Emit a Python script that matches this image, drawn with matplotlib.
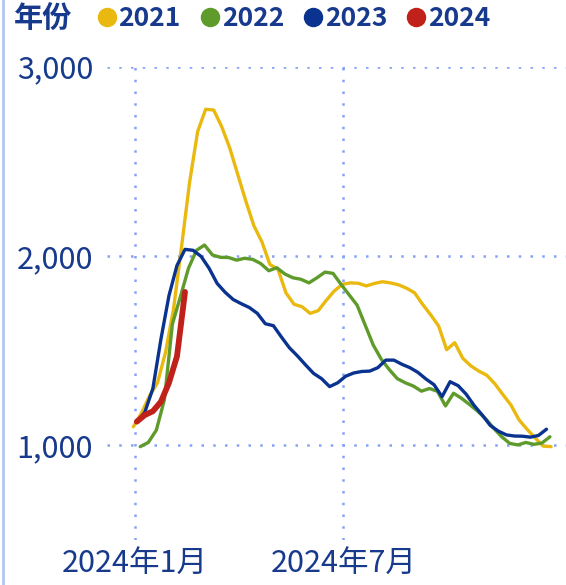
import matplotlib
matplotlib.use("Agg")
import matplotlib.pyplot as plt
import pandas as pd
from matplotlib.lines import Line2D

plt.rcParams["font.family"] = ["Noto Sans CJK SC", "DejaVu Sans"]

# weekly series, aligned on the 2024 calendar
YEARS = ["2021", "2022", "2023", "2024"]
STARTS = ["2023-12-31", "2024-01-06", "2024-01-03", "2024-01-03"]
v2021 = [1098, 1170, 1260, 1330, 1490, 1720, 2050, 2390, 2657, 2775, 2771, 2683,
         2570, 2430, 2290, 2160, 2075, 1955, 1930, 1805, 1745, 1732, 1697, 1711,
         1765, 1815, 1850, 1858, 1856, 1842, 1855, 1864, 1858, 1848, 1830, 1806,
         1745, 1690, 1630, 1505, 1542, 1460, 1420, 1392, 1370, 1325, 1268, 1213,
         1135, 1085, 1040, 996, 993]
v2022 = [993, 1015, 1080, 1240, 1640, 1785, 1935, 2030, 2058, 2005, 1993, 1992,
         1978, 1988, 1982, 1960, 1922, 1938, 1905, 1885, 1877, 1858, 1885, 1915,
         1908, 1850, 1795, 1740, 1635, 1530, 1455, 1400, 1352, 1330, 1313, 1286,
         1300, 1285, 1208, 1275, 1248, 1215, 1180, 1140, 1090, 1045, 1010, 1002,
         1015, 1005, 1012, 1045]
v2023 = [1125, 1175, 1300, 1560, 1790, 1950, 2035, 2030, 1998, 1935, 1855, 1808,
         1770, 1748, 1728, 1697, 1642, 1632, 1572, 1515, 1472, 1425, 1380, 1352,
         1310, 1330, 1365, 1382, 1390, 1392, 1410, 1450, 1450, 1428, 1410, 1385,
         1350, 1320, 1257, 1336, 1315, 1270, 1210, 1160, 1105, 1075, 1055, 1049,
         1048, 1043, 1052, 1085]
v2024 = [1125, 1160, 1180, 1230, 1330, 1470, 1810]
SERIES = [v2021, v2022, v2023, v2024]
COLORS = ["#E9B90F", "#5F9B2B", "#0A3390", "#C0211A"]
WIDTHS = [2.4, 2.4, 2.4, 4.2]

YTICKS = [1000, 2000, 3000]
YLABELS = ["1,000", "2,000", "3,000"]
XTICKS = ["2024-01-01", "2024-07-01"]
XLABELS = ["2024年1月", "2024年7月"]

TXT = "#173A8C"
GRID = "#86A2F5"

fig = plt.figure(figsize=(5.66, 5.85), dpi=100)
ax = fig.add_axes([0.189, 0.077, 0.811, 0.809])

for yr, st, vals, c, lw in zip(YEARS, STARTS, SERIES, COLORS, WIDTHS):
    x = pd.date_range(st, periods=len(vals), freq="7D")
    ax.plot(x, vals, color=c, lw=lw, solid_capstyle="round",
            solid_joinstyle="round", zorder=3, label=yr)

ax.set_ylim(500, 3000)
ax.set_xlim(pd.Timestamp("2023-12-08"), pd.Timestamp("2025-01-11"))
ax.set_yticks(YTICKS)
ax.set_yticklabels(YLABELS)
ax.set_xticks([pd.Timestamp(t) for t in XTICKS])
ax.set_xticklabels(XLABELS)
ax.tick_params(length=0, colors=TXT, labelsize=22)
ax.tick_params(axis="y", pad=10)
ax.tick_params(axis="x", pad=6)
for s in ax.spines.values():
    s.set_visible(False)
ax.grid(True, color=GRID, lw=1.8, ls=(0, (1, 3.7)), zorder=1)

# legend row on top
fig.text(0.024, 0.968, "年份", color=TXT, fontsize=21, fontweight="bold",
         va="center", ha="left")
handles = [Line2D([], [], ls="None", marker="o", ms=13, mfc=c, mec=c)
           for c in COLORS]
leg = fig.legend(handles, YEARS, loc="center left", bbox_to_anchor=(0.172, 0.968),
                 ncol=4, frameon=False, handlelength=0.7, handletextpad=0.1,
                 columnspacing=0.75, borderaxespad=0, borderpad=0,
                 prop={"size": 19, "weight": "bold"})
for t in leg.get_texts():
    t.set_color(TXT)

# thin light border on the left edge
fig.add_artist(Line2D([0.005, 0.005], [0, 1], color="#B4C6EE", lw=2,
                      transform=fig.transFigure))

fig.savefig("out.png", dpi=100)
